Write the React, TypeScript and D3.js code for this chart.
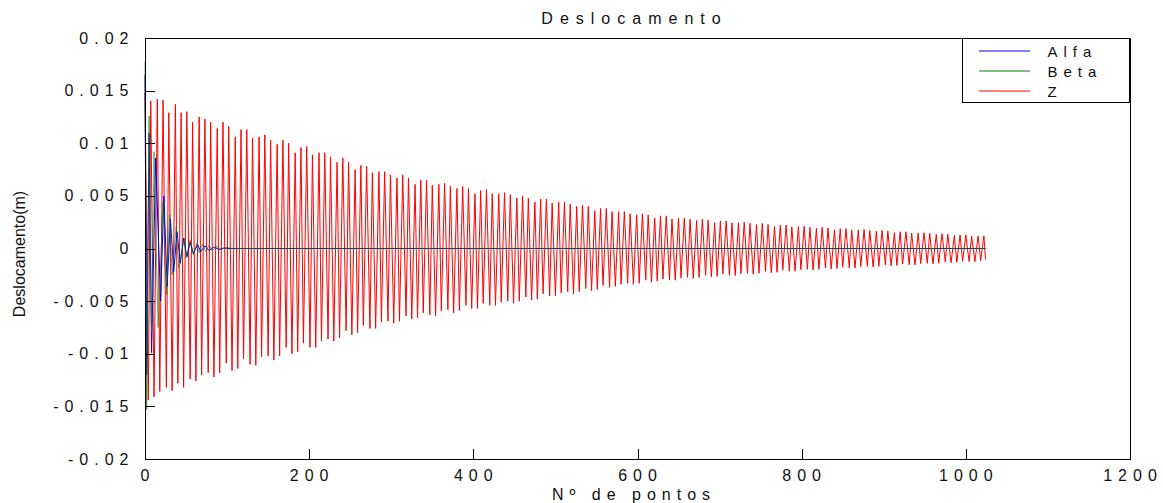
import * as d3 from "d3";

// Z: turning points of the red trace (point number, displacement in mm)
const zIndex = [
  0, 4, 7, 11, 15, 18, 22, 26, 29, 33, 37, 40, 44, 47, 51, 55, 58, 62, 66, 69,
  73, 77, 80, 84, 88, 91, 95, 99, 102, 106, 110, 113, 117, 120, 124, 128, 131, 135, 139, 142,
  146, 150, 153, 157, 161, 164, 168, 172, 175, 179, 183, 186, 190, 193, 197, 201, 204, 208, 212, 215,
  219, 223, 226, 230, 234, 237, 241, 245, 248, 252, 256, 259, 263, 266, 270, 274, 277, 281, 285, 288,
  292, 296, 299, 303, 307, 310, 314, 318, 321, 325, 329, 332, 336, 339, 343, 347, 350, 354, 358, 361,
  365, 369, 372, 376, 380, 383, 387, 391, 394, 398, 402, 405, 409, 412, 416, 420, 423, 427, 431, 434,
  438, 442, 445, 449, 453, 456, 460, 464, 467, 471, 475, 478, 482, 485, 489, 493, 496, 500, 504, 507,
  511, 515, 518, 522, 526, 529, 533, 537, 540, 544, 548, 551, 555, 558, 562, 566, 569, 573, 577, 580,
  584, 588, 591, 595, 599, 602, 606, 610, 613, 617, 621, 624, 628, 631, 635, 639, 642, 646, 650, 653,
  657, 661, 664, 668, 672, 675, 679, 683, 686, 690, 694, 697, 701, 704, 708, 712, 715, 719, 723, 726,
  730, 734, 737, 741, 745, 748, 752, 756, 759, 763, 767, 770, 774, 777, 781, 785, 788, 792, 796, 799,
  803, 807, 810, 814, 818, 821, 825, 829, 832, 836, 840, 843, 847, 850, 854, 858, 861, 865, 869, 872,
  876, 880, 883, 887, 891, 894, 898, 902, 905, 909, 913, 916, 920, 923, 927, 931, 934, 938, 942, 945,
  949, 953, 956, 960, 964, 967, 971, 975, 978, 982, 986, 989, 993, 996, 1000, 1004, 1007, 1011, 1015, 1018,
  1022, 1024,
];
const zMm = [
  14.8, -14.4, 14.0, -14.1, 14.2, -13.6, 14.1, -13.2, 12.9, -13.5, 13.7, -12.8, 12.9, -13.2, 13.0, -12.4, 12.0, -12.6, 12.5, -12.0,
  12.3, -11.8, 12.0, -12.2, 11.4, -11.8, 12.0, -10.9, 11.6, -11.6, 10.6, -11.4, 11.3, -10.5, 11.3, -11.0, 10.5, -11.1, 10.6, -10.3,
  10.8, -10.2, 10.3, -10.6, 9.9, -10.2, 10.3, -9.4, 10.0, -10.0, 9.1, -9.8, 9.6, -9.0, 9.7, -9.4, 8.9, -9.4, 9.1, -8.8,
  9.1, -8.6, 8.7, -8.8, 8.2, -8.5, 8.6, -7.8, 8.2, -8.2, 7.5, -8.0, 7.9, -7.3, 7.8, -7.6, 7.2, -7.6, 7.3, -7.0,
  7.3, -6.9, 7.0, -7.1, 6.7, -6.9, 7.0, -6.4, 6.7, -6.7, 6.1, -6.6, 6.5, -6.1, 6.5, -6.3, 6.0, -6.4, 6.1, -5.9,
  6.2, -5.8, 5.9, -6.1, 5.7, -5.9, 5.9, -5.4, 5.7, -5.7, 5.2, -5.7, 5.5, -5.2, 5.6, -5.4, 5.2, -5.4, 5.2, -5.1,
  5.3, -5.0, 5.1, -5.2, 4.8, -5.0, 5.0, -4.6, 4.8, -4.9, 4.4, -4.8, 4.7, -4.3, 4.7, -4.5, 4.3, -4.5, 4.4, -4.2,
  4.4, -4.1, 4.2, -4.3, 4.0, -4.1, 4.1, -3.8, 4.0, -4.0, 3.6, -3.9, 3.8, -3.5, 3.8, -3.7, 3.5, -3.6, 3.5, -3.4,
  3.5, -3.3, 3.3, -3.4, 3.2, -3.3, 3.3, -3.0, 3.2, -3.2, 2.9, -3.1, 3.1, -2.9, 3.1, -3.0, 2.8, -3.0, 2.9, -2.8,
  2.9, -2.74, 2.77, -2.84, 2.65, -2.74, 2.78, -2.54, 2.69, -2.69, 2.46, -2.65, 2.61, -2.43, 2.62, -2.55, 2.43, -2.56, 2.46, -2.39,
  2.5, -2.36, 2.39, -2.44, 2.27, -2.35, 2.38, -2.17, 2.29, -2.3, 2.09, -2.26, 2.21, -2.06, 2.22, -2.16, 2.05, -2.16, 2.08, -2.01,
  2.1, -1.98, 2.01, -2.05, 1.92, -1.98, 2.01, -1.84, 1.94, -1.95, 1.77, -1.92, 1.88, -1.75, 1.89, -1.84, 1.75, -1.85, 1.78, -1.72,
  1.8, -1.7, 1.72, -1.76, 1.64, -1.69, 1.71, -1.56, 1.65, -1.65, 1.5, -1.62, 1.59, -1.48, 1.59, -1.54, 1.47, -1.55, 1.48, -1.44,
  1.5, -1.41, 1.43, -1.46, 1.35, -1.4, 1.41, -1.28, 1.35, -1.35, 1.23, -1.32, 1.29, -1.2, 1.29, -1.25, 1.18, -1.25, 1.19, -1.15,
  1.2, -1.05,
];

// Alfa and Beta die out in the first ~100 points, then stay on zero
const alfaIndex = [0, 2, 5, 8, 13, 19, 23, 27, 31, 35, 39, 43, 47, 51, 55, 59, 64, 68, 73, 78, 84, 90, 96, 102, 1024];
const alfaMm = [16.5, -12.0, 11.0, -9.9, 8.6, -5.0, 5.0, -3.6, 2.8, -2.2, 1.6, -1.4, 1.0, -0.8, 0.6, -0.5, 0.4, -0.3, 0.25, -0.2, 0.15, -0.1, 0.05, 0, 0];

const betaIndex = [0, 2, 5, 8, 11, 16, 22, 26, 30, 33, 38, 41, 48, 50, 55, 59, 63, 66, 70, 74, 78, 82, 87, 92, 100, 106, 1024];
const betaMm = [17.7, -15.3, 12.6, -8.0, 9.2, -7.5, 4.4, -4.4, 3.2, -2.5, 2.1, -1.8, 1.0, -0.9, 0.8, -0.6, 0.5, -0.4, 0.4, -0.3, 0.3, -0.2, 0.2, -0.1, 0.1, 0, 0];

const xTicks = [0, 200, 400, 600, 800, 1000, 1200];
const yTicks = [-0.02, -0.015, -0.01, -0.005, 0, 0.005, 0.01, 0.015, 0.02];
const legendNames = ["Alfa", "Beta", "Z"];
const legendColors = ["#0000ff", "#008000", "#ff0000"];

const W = 1163, H = 503;
const left = 145, right = 1130, top = 38, bottom = 459;
const font = "'Liberation Sans', Arial, sans-serif";

type Pt = [number, number];

function toPoints(idx: number[], mm: number[]): Pt[] {
  return idx.map((n, i) => [n, mm[i] / 1000]);
}

const fmt = (v: number) => (v === 0 ? "0" : String(Number(v.toFixed(3))));

export default function App() {
  const x = d3.scaleLinear().domain([0, 1200]).range([left, right]);
  const y = d3.scaleLinear().domain([-0.02, 0.02]).range([bottom, top]);
  const line = d3
    .line<Pt>()
    .x((d) => x(d[0]))
    .y((d) => y(d[1]));

  const zPath = line(toPoints(zIndex, zMm)) || "";
  const alfaPath = line(toPoints(alfaIndex, alfaMm)) || "";
  const betaPath = line(toPoints(betaIndex, betaMm)) || "";

  return (
    <svg
      width={W}
      height={H}
      style={{ position: "absolute", left: 0, top: 0, background: "#fff" }}
      fontFamily={font}
    >
      <rect width={W} height={H} fill="#fff" />

      <g>
        <path d={zPath} fill="none" stroke="#ff0000" strokeWidth={1} />
        <path d={alfaPath} fill="none" stroke="#0000ff" strokeWidth={1} />
        <path d={betaPath} fill="none" stroke="#008000" strokeWidth={1} strokeOpacity={0.6} />
      </g>

      {/* axes box */}
      <rect
        x={left + 0.5}
        y={top + 0.5}
        width={right - left}
        height={bottom - top}
        fill="none"
        stroke="#000"
        strokeWidth={1}
        shapeRendering="crispEdges"
      />

      {yTicks.map((t) => (
        <g key={"y" + t}>
          <line
            x1={left}
            x2={left + 10}
            y1={Math.round(y(t)) + 0.5}
            y2={Math.round(y(t)) + 0.5}
            stroke="#000"
            shapeRendering="crispEdges"
          />
          <text x={134.5} y={y(t) + 5.5} textAnchor="end" fontSize={16} letterSpacing={6} fill="#111">
            {fmt(t)}
          </text>
        </g>
      ))}

      {xTicks.map((t) => (
        <g key={"x" + t}>
          <line
            x1={Math.round(x(t)) + 0.5}
            x2={Math.round(x(t)) + 0.5}
            y1={bottom}
            y2={bottom - 10}
            stroke="#000"
            shapeRendering="crispEdges"
          />
          <text x={x(t) + 3} y={481} textAnchor="middle" fontSize={16} letterSpacing={6} fill="#111">
            {String(t)}
          </text>
        </g>
      ))}

      <text x={634.5} y={24} textAnchor="middle" fontSize={16} letterSpacing={7} fill="#111">
        Deslocamento
      </text>
      <text x={634} y={500} textAnchor="middle" fontSize={16} letterSpacing={6} fill="#111">
        Nº de pontos
      </text>
      <text
        transform={`translate(25, 254) rotate(-90)`}
        textAnchor="middle"
        fontSize={16}
        fill="#111"
      >
        Deslocamento(m)
      </text>

      {/* legend */}
      <rect x={962.5} y={38.5} width={167} height={64} fill="#fff" stroke="#000" shapeRendering="crispEdges" />
      {legendNames.map((name, i) => (
        <g key={name}>
          <line x1={979} x2={1030} y1={51 + i * 20} y2={51 + i * 20} stroke={legendColors[i]} />
          <text x={1047.5} y={56.5 + i * 20} fontSize={15} letterSpacing={6} fill="#111">
            {name}
          </text>
        </g>
      ))}
    </svg>
  );
}
